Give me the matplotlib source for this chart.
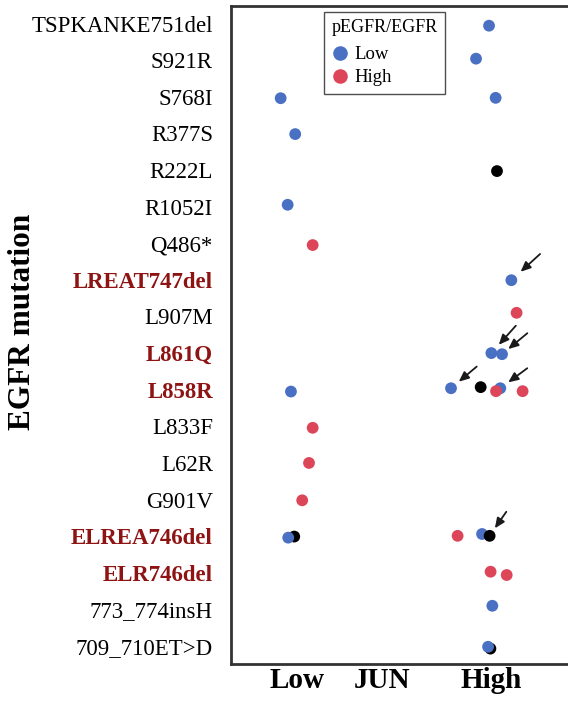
import matplotlib
matplotlib.use("Agg")
import matplotlib.pyplot as plt
from matplotlib.lines import Line2D

plt.rcParams['font.family'] = ['Liberation Serif', 'DejaVu Serif']

# ---- data ----
mutations = ["TSPKANKE751del", "S921R", "S768I", "R377S", "R222L", "R1052I",
             "Q486*", "LREAT747del", "L907M", "L861Q", "L858R", "L833F",
             "L62R", "G901V", "ELREA746del", "ELR746del", "773_774insH",
             "709_710ET>D"]
highlighted = ["LREAT747del", "L861Q", "L858R", "ELREA746del", "ELR746del"]
jun_ticks = ["Low", "High"]

# each point: mutation, JUN position (0=Low, 1=High, jittered), pEGFR/EGFR group, vertical jitter
pt_mut = ["TSPKANKE751del", "S921R", "S768I", "S768I", "R377S", "R222L",
          "R1052I", "Q486*", "LREAT747del", "L907M", "L861Q", "L861Q",
          "L858R", "L858R", "L858R", "L858R", "L858R", "L858R",
          "L833F", "L62R", "G901V",
          "ELREA746del", "ELREA746del", "ELREA746del", "ELREA746del", "ELREA746del",
          "ELR746del", "ELR746del", "773_774insH", "709_710ET>D", "709_710ET>D"]
pt_x = [0.990, 0.923, -0.084, 1.024, -0.009, 1.031,
        -0.048, 0.081, 1.105, 1.132, 1.002, 1.057,
        -0.031, 0.794, 0.947, 1.048, 1.026, 1.163,
        0.081, 0.062, 0.027,
        -0.014, -0.045, 0.828, 0.954, 0.993,
        0.998, 1.081, 1.007, 0.997, 0.985]
pt_grp = ["Low", "Low", "Low", "Low", "Low", "NA",
          "Low", "High", "Low", "High", "Low", "Low",
          "Low", "Low", "NA", "Low", "High", "High",
          "High", "High", "High",
          "NA", "Low", "High", "Low", "NA",
          "High", "High", "Low", "NA", "Low"]
pt_dy = [0.06, -0.04, 0.04, 0.03, 0.02, 0.03,
         -0.05, 0.05, 0.01, -0.10, 0.0, 0.03,
         0.05, -0.04, -0.07, -0.04, 0.04, 0.04,
         0.04, 0.0, 0.02,
         0.01, 0.04, -0.01, -0.06, -0.01,
         -0.03, 0.06, -0.10, 0.07, 0.02]

# arrows: index of the pointed point, tail offset (points), head gap (points)
arrow_pt = [8, 10, 11, 13, 15, 25]
arrow_tail = [(20.7, 18.9), (17.6, 19.7), (18.2, 15.1), (18.5, 15.6), (19.4, 14.4), (12.0, 17.3)]
arrow_gap = [9.0, 8.0, 5.8, 7.3, 7.1, 6.6]

colors = {"Low": "#4A70C4", "High": "#DD4558", "NA": "#000000"}
label_red = "#8E1414"

# ---- figure ----
fig = plt.figure(figsize=(5.68, 7.02), dpi=100)
ax = fig.add_axes([231 / 568, 1 - 664 / 702, 1 - 231 / 568, (664 - 6) / 702])

row = {m: i for i, m in enumerate(mutations)}
for k, (m, x, g, dy) in enumerate(zip(pt_mut, pt_x, pt_grp, pt_dy)):
    ax.scatter([x], [row[m] + dy], s=72, color=colors[g], edgecolors='none',
               zorder=3 + k * 0.01)

for i, off, gap in zip(arrow_pt, arrow_tail, arrow_gap):
    ax.annotate("", xy=(pt_x[i], row[pt_mut[i]] + pt_dy[i]), xycoords='data',
                xytext=off, textcoords='offset points',
                arrowprops=dict(arrowstyle='-|>,head_length=0.5,head_width=0.22',
                                color='#1a1a1a', lw=1.3,
                                mutation_scale=12, shrinkA=0, shrinkB=gap),
                zorder=5)

ax.set_xlim(-0.340, 1.397)
ax.set_ylim(17.49, -0.478)

ax.set_yticks(range(len(mutations)))
ax.set_yticklabels(mutations, fontsize=16.5)
for lab in ax.get_yticklabels():
    if lab.get_text() in highlighted:
        lab.set_color(label_red)
        lab.set_fontweight('bold')
ax.tick_params(axis='y', length=0, pad=13)

ax.set_xticks([0, 1])
ax.set_xticklabels(jun_ticks, fontsize=21, fontweight='bold')
ax.tick_params(axis='x', length=0, pad=2)
ax.annotate("JUN", xy=(0.438, 0), xycoords=('data', 'axes fraction'),
            xytext=(0, -2), textcoords='offset points', ha='center', va='top',
            fontsize=21, fontweight='bold')

for s in ['left', 'bottom', 'top']:
    ax.spines[s].set_linewidth(2.0)
    ax.spines[s].set_color('#333333')
ax.spines['right'].set_visible(False)

fig.text(23 / 568, 1 - 322 / 702, "EGFR mutation", rotation=90, ha='center',
         va='center', fontsize=22.5, fontweight='bold')

handles = [Line2D([], [], marker='o', linestyle='none', markersize=10.5,
                  markerfacecolor=colors[g], markeredgecolor='none', label=g)
           for g in ["Low", "High"]]
leg = ax.legend(handles=handles, title="pEGFR/EGFR", loc='upper left',
                bbox_to_anchor=((324 - 231) / 337, 1 - 6 / 658),
                borderaxespad=0, fancybox=False, frameon=True, fontsize=13.5,
                title_fontsize=13, handletextpad=0.3, labelspacing=0.3,
                borderpad=0.4, handlelength=0.9, alignment='left')
leg._legend_box.sep = 7
leg.get_frame().set_edgecolor('#222222')
leg.get_frame().set_linewidth(1.0)

fig.savefig("out.png", dpi=100)
